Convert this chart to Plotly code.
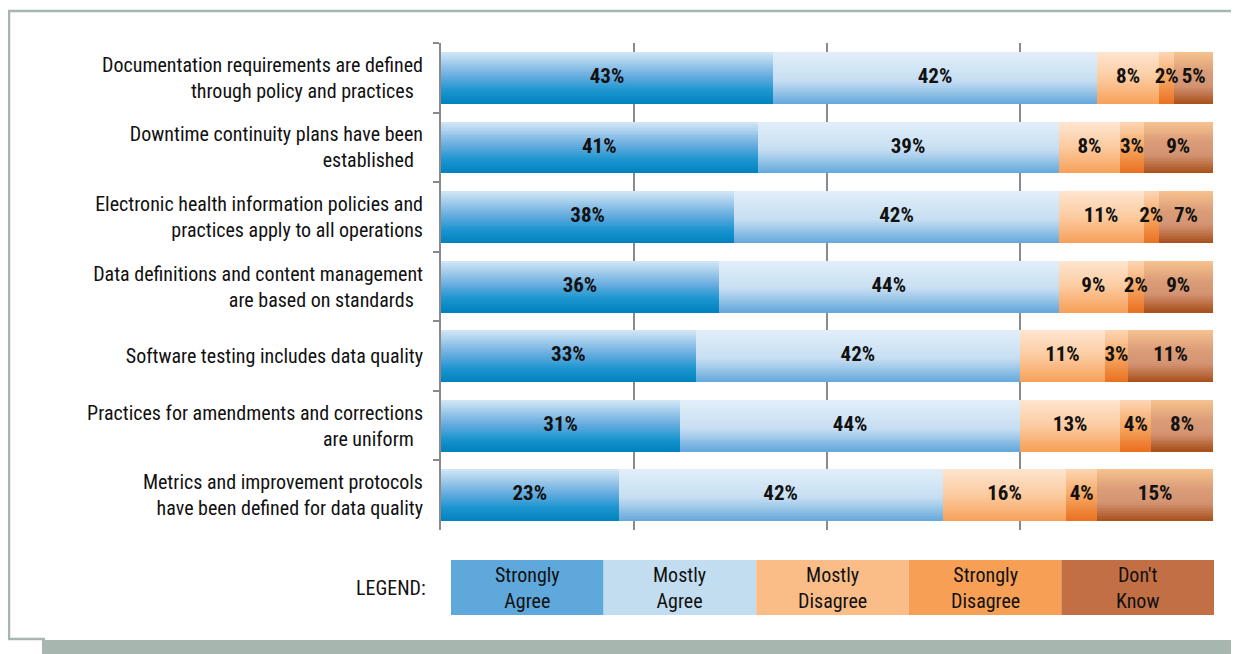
import plotly.graph_objects as go

# ---------------- data ----------------
categories = [
    "Documentation requirements are defined<br>through policy and practices\u00a0\u00a0",
    "Downtime continuity plans have been<br>established\u00a0\u00a0",
    "Electronic health information policies and<br>practices apply to all operations",
    "Data definitions and content management<br>are based on standards\u00a0\u00a0",
    "Software testing includes data quality",
    "Practices for amendments and corrections<br>are uniform\u00a0\u00a0",
    "Metrics and improvement protocols<br>have been defined for data quality",
]
series_names = ["Strongly Agree", "Mostly Agree", "Mostly Disagree", "Strongly Disagree", "Don't Know"]
legend_labels = ["Strongly<br>Agree", "Mostly<br>Agree", "Mostly<br>Disagree", "Strongly<br>Disagree", "Don't<br>Know"]
strongly_agree = [43, 41, 38, 36, 33, 31, 23]
mostly_agree = [42, 39, 42, 44, 42, 44, 42]
mostly_disagree = [8, 8, 11, 9, 11, 13, 16]
strongly_disagree = [2, 3, 2, 2, 3, 4, 4]
dont_know = [5, 9, 7, 9, 11, 8, 15]
series_values = [strongly_agree, mostly_agree, mostly_disagree, strongly_disagree, dont_know]

# ---------------- style ----------------
gradients = [
    [(0.0, "#d3e7f6"), (0.45, "#6aaee0"), (0.75, "#1b95cf"), (1.0, "#0082be")],
    [(0.0, "#e2eff9"), (0.55, "#c6def2"), (1.0, "#64a8dc")],
    [(0.0, "#fee5d0"), (0.5, "#fccba0"), (1.0, "#f7a059")],
    [(0.0, "#fdd6b4"), (0.5, "#f6a864"), (1.0, "#ea7020")],
    [(0.0, "#f7c38f"), (0.4, "#da9b77"), (0.65, "#d49473"), (1.0, "#a84f1a")],
]
legend_colors = ["#5fa8db", "#c2ddf0", "#fbbd88", "#f69f55", "#c36f45"]
FONT = "Liberation Sans Narrow, Arial Narrow, Roboto Condensed, Liberation Sans, Arial, sans-serif"
FRAME = "#a7b6ae"
GRID = "#8a8a8a"

# the page body adds an 8px margin, so draw in a figure 8px smaller and shift coordinates
OFF = 8
W_PX, H_PX = 1239 - OFF, 654 - OFF
L, R, T, B = 441 - OFF, 1213 - OFF, 43 - OFF, 530 - OFF


def hex2rgb(h):
    h = h.lstrip("#")
    return tuple(int(h[i:i + 2], 16) for i in (0, 2, 4))


def interp(stops, t):
    for (t0, c0), (t1, c1) in zip(stops[:-1], stops[1:]):
        if t0 <= t <= t1:
            f = 0 if t1 == t0 else (t - t0) / (t1 - t0)
            a, b = hex2rgb(c0), hex2rgb(c1)
            return "rgb(%d,%d,%d)" % tuple(round(a[i] + (b[i] - a[i]) * f) for i in range(3))
    return stops[-1][1]


def px(x):
    return (x - OFF - L) / (R - L)


def py(y):
    return (B - (y - OFF)) / (B - T)


fig = go.Figure()

BAR_W = 0.74
K = 26
bases = [0] * len(categories)
for name, vals, stops in zip(series_names, series_values, gradients):
    for k in range(K):
        fig.add_trace(go.Bar(
            y=categories, x=vals, base=bases, orientation="h",
            width=BAR_W / K + 0.004, offset=-BAR_W / 2 + k * BAR_W / K,
            marker=dict(color=interp(stops, (k + 0.5) / K), line=dict(width=0)),
            name=name, showlegend=False, hoverinfo="skip",
        ))
    mids = [b + v / 2 for b, v in zip(bases, vals)]
    fig.add_trace(go.Scatter(
        y=categories, x=mids, mode="text", text=["%d%%" % v for v in vals],
        textfont=dict(family=FONT, size=21, color="#111111", weight="bold"),
        showlegend=False, hoverinfo="skip", cliponaxis=False,
    ))
    bases = [b + v for b, v in zip(bases, vals)]

shapes = []
# frame
shapes.append(dict(type="line", xref="paper", yref="paper", x0=px(8), x1=px(1240), y0=py(11), y1=py(11),
                   line=dict(color=FRAME, width=2.5)))
shapes.append(dict(type="line", xref="paper", yref="paper", x0=px(9), x1=px(9), y0=py(10), y1=py(639),
                   line=dict(color=FRAME, width=2.5)))
shapes.append(dict(type="line", xref="paper", yref="paper", x0=px(8), x1=px(45), y0=py(639), y1=py(639),
                   line=dict(color=FRAME, width=2.5)))
shapes.append(dict(type="rect", xref="paper", yref="paper", x0=px(42), x1=px(1240), y0=py(640), y1=py(655),
                   fillcolor=FRAME, line=dict(width=0)))

annotations = []
# legend
box_x0, box_w = 451, 152.6
for i, (lab, col) in enumerate(zip(legend_labels, legend_colors)):
    x0 = box_x0 + i * box_w
    shapes.append(dict(type="rect", xref="paper", yref="paper", x0=px(x0), x1=px(x0 + box_w),
                       y0=py(615), y1=py(560), fillcolor=col, line=dict(width=0), layer="above"))
    annotations.append(dict(xref="paper", yref="paper", x=px(x0 + box_w / 2), y=py(588), text=lab,
                            showarrow=False, xanchor="center", yanchor="middle",
                            font=dict(family=FONT, size=20, color="#111111")))
annotations.append(dict(xref="paper", yref="paper", x=px(428), y=py(588), text="LEGEND:",
                        showarrow=False, xanchor="right", yanchor="middle",
                        font=dict(family=FONT, size=20, color="#111111")))

fig.update_layout(
    width=W_PX, height=H_PX,
    margin=dict(l=L, r=W_PX - R, t=T, b=H_PX - B, pad=0),
    paper_bgcolor="white", plot_bgcolor="white",
    barmode="overlay", bargap=0,
    shapes=shapes, annotations=annotations,
    xaxis=dict(range=[0, 100], showticklabels=False, ticks="", showgrid=True,
               gridcolor=GRID, gridwidth=2, tickvals=[25, 50, 75, 100], zeroline=False,
               showline=False, fixedrange=True),
    yaxis=dict(autorange="reversed", showline=True, linecolor=GRID, linewidth=2,
               ticks="outside", ticklen=6, tickwidth=2, tickcolor=GRID, tickson="boundaries",
               tickfont=dict(family=FONT, size=20, color="#111111"),
               ticklabelstandoff=12, showgrid=False, fixedrange=True),
    font=dict(family=FONT),
)

fig.write_html("out.html")
